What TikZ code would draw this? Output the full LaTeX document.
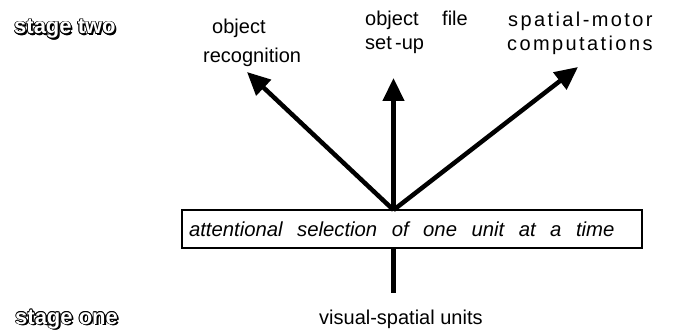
\documentclass[tikz,border=0pt]{standalone}
\usepackage{fontspec}
\setmainfont{Liberation Sans}
\newfontfamily\widefont[LetterSpace=12]{Liberation Sans}
\usetikzlibrary{arrows.meta}

% wide interword spacing for the selection box text
\newcommand{\widespaces}{\spaceskip=14.5pt plus 2pt\relax}

% outlined, shadowed lettering for the stage labels
\newcommand{\outlinetext}[3]{%
  \foreach \dx/\dy in {1.8/-1.8,1.3/-1.3} {
    \node[stagefont, anchor=base west, text=black] at ([xshift=\dx pt,yshift=\dy pt]#1) {#3};
  }
  \foreach \dx/\dy in {-0.8/0,0.8/0,0/0.8,0/-0.8,-0.55/0.55,0.55/0.55,-0.55/-0.55,0.55/-0.55} {
    \node[stagefont, anchor=base west, text=black] at ([xshift=\dx pt,yshift=\dy pt]#1) {#3};
  }
  \node[stagefont, anchor=base west, text=white] (#2) at (#1) {#3};
}

\begin{document}
\begin{tikzpicture}[x=1pt, y=-1pt,
  lbl/.style={font=\fontsize{20}{24}\selectfont, inner sep=0pt, anchor=base west},
  widelbl/.style={font=\fontsize{20}{24}\selectfont\widefont, inner sep=0pt, anchor=base west},
  stagefont/.style={font=\fontsize{22}{24}\selectfont\bfseries, inner sep=0pt},
  selbox/.style={draw, line width=1.3pt, text width=446pt, align=left,
    minimum height=38pt, inner xsep=7pt, inner ysep=0pt,
    font=\fontsize{20.3}{24}\selectfont\itshape},
  bigarrow/.style={line width=4.5pt, -{Triangle[length=23pt, width=21pt]}},
  stem/.style={line width=4.5pt}]

\useasboundingbox (0,0) rectangle (675,334);

% selection box
\node[selbox] (sel) at (412,229) {\widespaces attentional selection of one unit at a time};

% hub where the three arrows leave the box
\coordinate (hub) at (393.5,210);
\coordinate (stemend) at (393.5,293);

% stage-two outputs
\node[lbl] (rec) at (212,34) {object};
\node[lbl] (rec2) at (203,63) {recognition};
\node[lbl] (ofile) at (365,26) {object};
\node[lbl] (ofile2) at (442,26) {file};
\node[lbl] (setup) at (365,50) {set\,-up};
\node[widelbl] (spm) at (508,27) {spatial-motor};
\node[widelbl] (spm2) at (507,51) {computations};

% input units
\node[lbl] (units) at (319,324) {visual-spatial units};

\coordinate (tipL) at (247,72);
\coordinate (tipM) at (393.5,78);
\coordinate (tipR) at (578,67);

\draw[bigarrow] (hub) -- (tipL);
\draw[bigarrow] (hub) -- (tipM);
\draw[bigarrow] (hub) -- (tipR);
\draw[stem] (sel.south -| hub) -- (stemend);

% stage labels
\coordinate (stwopos) at (14,34);
\coordinate (sonepos) at (15,324);
\outlinetext{stwopos}{stwo}{stage two}
\outlinetext{sonepos}{sone}{stage one}

\end{tikzpicture}
\end{document}
